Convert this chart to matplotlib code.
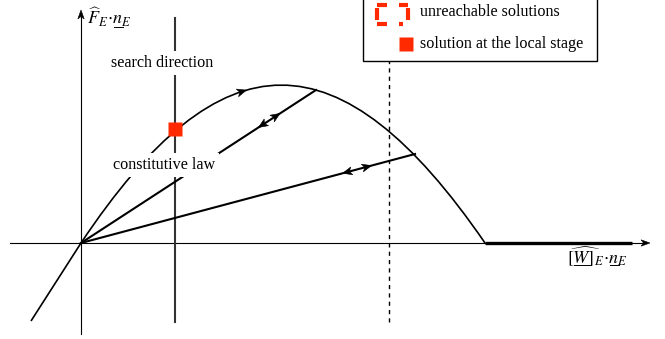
import matplotlib
matplotlib.use("Agg")
import matplotlib.pyplot as plt
from matplotlib.path import Path
from matplotlib.patches import PathPatch, Rectangle, Polygon
from matplotlib.bezier import BezierSegment
import numpy as np

plt.rcParams["font.family"] = ["Liberation Serif", "DejaVu Serif"]
plt.rcParams["mathtext.fontset"] = "stix"

# Constitutive law: straight branch below the origin, then a Bezier hump
tail_x = [-50, 0]
tail_y = [-78, 0]
hump_ctrl_x = [0, 140, 259, 404]
hump_ctrl_y = [0, 210, 211, 0]
# Plateau after the peak (zero force)
plateau_x = [404, 551]
plateau_y = [0, 0]
# Unloading lines from the origin to the law
unload_end_x = [235, 334]
unload_end_y = [153, 89]
unload_arrow_out = [0.83, 0.856]
unload_arrow_back = [0.772, 0.797]
curve_arrow_s = 0.40
# Search direction and solution at the local stage
search_x = 94
search_y = [-79, 225]
local_sol_x = 94
local_sol_y = 114
# Unreachable limit (dashed)
limit_x = 308
limit_y = [-79, 182]

red = "#ff2a00"
fs = 11.6
mfs = 13

fig = plt.figure(figsize=(6.65, 3.39), dpi=100)
ax = fig.add_axes([0, 0, 1, 1])
ax.set_xlim(-81, 584)
ax.set_ylim(-96, 243)
ax.axis("off")
renderer = fig.canvas.get_renderer()


def stealth(p, d, length=9.5, half_w=4.0, notch=2.5, color="black", z=5):
    """Filled stealth-style arrowhead centred on p, pointing along d."""
    d = np.asarray(d, float)
    d = d / np.hypot(*d)
    n = np.array([-d[1], d[0]])
    p = np.asarray(p, float)
    tip = p + d * length / 2
    back = p - d * length / 2
    pts = [tip, back + n * half_w, back + d * notch, back - n * half_w]
    ax.add_patch(Polygon(pts, closed=True, facecolor=color, edgecolor=color,
                         lw=0.4, zorder=z))


def text_width(s, size):
    t = ax.text(0, 0, s, fontsize=size)
    w = t.get_window_extent(renderer).width
    t.remove()
    return w


def underlined_math(x, y, full, spans, size):
    """Mathtext at baseline (x, y); spans = [(prefix ending in symbol, symbol)]
    marks the symbols that get an underline."""
    ax.text(x, y, full, fontsize=size, ha="left", va="baseline", zorder=6)
    x0, y0 = ax.transData.transform((x, y))
    inv = ax.transData.inverted()
    for prefix, sym in spans:
        right = text_width(prefix, size)
        left = right - text_width(sym, size)
        a = inv.transform((x0 + left + 1.0, y0 - 2.0))
        b = inv.transform((x0 + right - 0.5, y0 - 2.0))
        ax.plot([a[0], b[0]], [a[1], b[1]], color="black", lw=0.7, zorder=6)


# Axes with arrows
ax.plot([0, 0], [-91, 226], color="black", lw=0.8, zorder=2)
stealth((0, 228.5), (0, 1), length=9, half_w=3.2)
ax.plot([-71, 562], [0, 0], color="black", lw=0.8, zorder=2)
stealth((564.5, 0), (1, 0), length=9, half_w=3.2)

underlined_math(6, 218, r"$\widehat{F}_E\!\cdot\!n_E$",
                [(r"$\widehat{F}_E\!\cdot\!n$", r"$n$")], mfs)
underlined_math(486, -20, r"$\widehat{[W]}_E\!\cdot\!n_E$",
                [(r"$[W$", r"$W$"), (r"$\widehat{[W]}_E\!\cdot\!n$", r"$n$")], mfs)

# Constitutive law
verts = [(tail_x[0], tail_y[0]), (tail_x[1], tail_y[1])] + \
        list(zip(hump_ctrl_x[1:], hump_ctrl_y[1:]))
codes = [Path.MOVETO, Path.LINETO, Path.CURVE4, Path.CURVE4, Path.CURVE4]
ax.add_patch(PathPatch(Path(verts, codes), fill=False, lw=1.2, color="black", zorder=3))
ax.plot(plateau_x, plateau_y, color="black", lw=2.4, solid_capstyle="butt", zorder=3)

seg = BezierSegment(np.column_stack([hump_ctrl_x, hump_ctrl_y]))
p0 = seg.point_at_t(curve_arrow_s)
p1 = seg.point_at_t(curve_arrow_s + 0.01)
stealth(p0, np.subtract(p1, p0))

# Unloading lines
for ex, ey, fo, fb in zip(unload_end_x, unload_end_y, unload_arrow_out, unload_arrow_back):
    ax.plot([0, ex], [0, ey], color="black", lw=1.5, zorder=3)
    stealth((ex * fo, ey * fo), (ex, ey))
    stealth((ex * fb, ey * fb), (-ex, -ey))

# Search direction
ax.plot([search_x, search_x], search_y, color="#333333", lw=1.5, zorder=2)
ax.text(81, 180, "search direction", fontsize=fs, ha="center", va="center",
        zorder=6, bbox=dict(facecolor="white", edgecolor="none", pad=2.5))
ax.text(83, 78, "constitutive law", fontsize=fs, ha="center", va="center",
        zorder=6, bbox=dict(facecolor="white", edgecolor="none", pad=2.5))
ax.plot([local_sol_x], [local_sol_y], marker="s", ms=10, color=red, mec="none", zorder=7)

# Dashed limit
ax.plot([limit_x, limit_x], limit_y, color="black", lw=1.0, ls=(0, (3, 3)), zorder=2)

# Legend box
ax.add_patch(Rectangle((282, 182), 234, 80, fill=True, facecolor="white",
                       edgecolor="black", lw=1.0, clip_on=False, zorder=8))
# dashed outline for the "unreachable solutions" glyph (lengths in px along the outline)
glyph_dash_px = [10, 12, 4, 9, 12, 3, 9, 12, 10, 3, 12, 4]
glyph_lw = 3.0
glyph_dash = [v * 0.72 / glyph_lw for v in glyph_dash_px]
ax.add_patch(Rectangle((296, 219), 31, 19, fill=False, edgecolor=red, lw=glyph_lw,
                       ls=(0, glyph_dash), capstyle="butt", joinstyle="miter",
                       clip_on=False, zorder=9))
ax.plot([325], [199.5], marker="s", ms=10, color=red, mec="none", zorder=9)
ax.text(339, 231, "unreachable solutions", fontsize=fs, ha="left", va="center", zorder=9)
ax.text(339, 199, "solution at the local stage", fontsize=fs, ha="left", va="center", zorder=9)

fig.savefig("out.png", dpi=100)
